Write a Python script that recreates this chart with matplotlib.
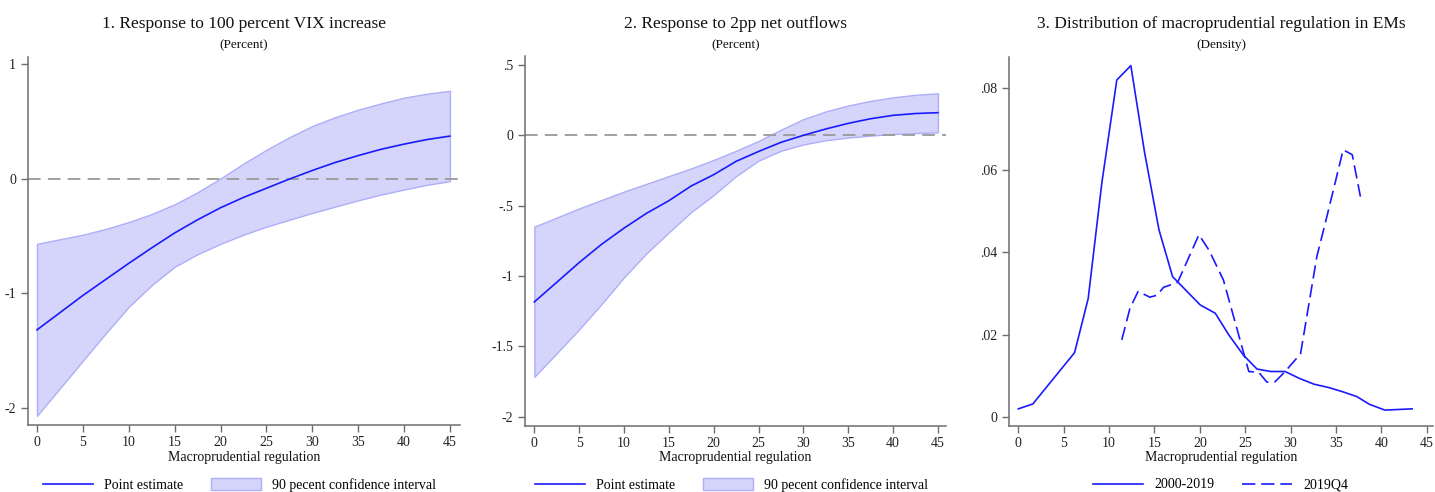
import matplotlib
matplotlib.use("Agg")
import matplotlib.pyplot as plt
import matplotlib.transforms as mtransforms
from matplotlib.patches import Patch
from matplotlib.lines import Line2D

plt.rcParams['font.family'] = ['Liberation Serif', 'DejaVu Serif']

# ---- data ----
x_reg = [0, 2.5, 5, 7.5, 10, 12.5, 15, 17.5, 20, 22.5, 25, 27.5, 30, 32.5, 35, 37.5, 40, 42.5, 45]

vix_est = [-1.32, -1.17, -1.02, -0.88, -0.74, -0.605, -0.475, -0.36, -0.255, -0.165, -0.085,
           -0.005, 0.07, 0.14, 0.20, 0.255, 0.30, 0.34, 0.37]
vix_hi = [-0.57, -0.53, -0.49, -0.44, -0.38, -0.31, -0.225, -0.12, 0.0, 0.13, 0.25,
          0.36, 0.458, 0.535, 0.60, 0.655, 0.705, 0.74, 0.765]
vix_lo = [-2.07, -1.83, -1.59, -1.35, -1.12, -0.93, -0.77, -0.66, -0.57, -0.49, -0.42,
          -0.36, -0.30, -0.245, -0.19, -0.14, -0.096, -0.055, -0.023]

flow_est = [-1.185, -1.045, -0.905, -0.775, -0.66, -0.555, -0.465, -0.36, -0.28, -0.185, -0.115,
            -0.05, 0.0, 0.045, 0.085, 0.118, 0.142, 0.155, 0.161]
flow_hi = [-0.65, -0.585, -0.52, -0.46, -0.40, -0.345, -0.29, -0.235, -0.175, -0.11, -0.04,
           0.04, 0.115, 0.17, 0.212, 0.245, 0.27, 0.288, 0.299]
flow_lo = [-1.717, -1.55, -1.38, -1.2, -1.01, -0.84, -0.69, -0.545, -0.425, -0.29, -0.18,
           -0.11, -0.065, -0.035, -0.016, -0.002, 0.009, 0.016, 0.021]

dens_x_all = [0.0, 1.6, 6.2, 7.7, 9.2, 10.85, 12.4, 13.9, 15.5, 17.0, 20.05, 21.7, 23.2, 24.8,
              26.3, 27.8, 29.4, 31.0, 32.6, 34.2, 35.7, 37.3, 38.7, 40.4, 43.4]
dens_y_all = [0.0019, 0.0031, 0.0156, 0.0288, 0.0569, 0.082, 0.0855, 0.0645, 0.0455, 0.0341,
              0.0272, 0.0252, 0.0199, 0.0150, 0.0116, 0.0110, 0.0110, 0.0093, 0.0079, 0.0071,
              0.0061, 0.0049, 0.0030, 0.0016, 0.0019]
dens_x_q4 = [11.4, 12.3, 13.2, 14.5, 15.3, 16.0, 17.55, 18.0, 19.9, 21.0, 22.6, 25.4, 26.5,
             27.4, 28.3, 29.4, 31.1, 32.9, 34.0, 35.8, 36.8, 37.7]
dens_y_q4 = [0.0187, 0.0264, 0.0305, 0.0291, 0.0296, 0.0315, 0.0327, 0.0349, 0.0443, 0.0406,
             0.0333, 0.011, 0.0108, 0.0084, 0.0085, 0.011, 0.0153, 0.039, 0.0487, 0.065,
             0.0638, 0.0536]

x_ticks = [0, 5, 10, 15, 20, 25, 30, 35, 40, 45]
vix_yticks = [1, 0, -1, -2]
vix_ylabels = ['1', '0', '-1', '-2']
flow_yticks = [0.5, 0, -0.5, -1, -1.5, -2]
flow_ylabels = ['.5', '0', '-.5', '-1', '-1.5', '-2']
dens_yticks = [0, 0.02, 0.04, 0.06, 0.08]
dens_ylabels = ['0', '.02', '.04', '.06', '.08']

titles = ['1. Response to 100 percent VIX increase',
          '2. Response to 2pp net outflows',
          '3. Distribution of macroprudential regulation in EMs']
subtitles = ['(Percent)', '(Percent)', '(Density)']

# ---- style ----
W, H = 1435, 492
blue = '#1a1aff'
band = '#d5d5fb'
band_edge = '#aeaef8'
spine_c = '#6e6e6e'

fig = plt.figure(figsize=(W / 100, H / 100), dpi=100)

def add_ax(l, r, t, b):
    return fig.add_axes([l / W, 1 - b / H, (r - l) / W, (b - t) / H])

ax1 = add_ax(28, 460, 57, 425)
ax2 = add_ax(525, 946, 56, 425.7)
ax3 = add_ax(1009, 1433, 57, 425.7)

# panel 1
ax1.fill_between(x_reg, vix_lo, vix_hi, facecolor=band, edgecolor=band_edge, lw=1)
ax1.axhline(0, color='#9a9a9a', lw=1.3, dashes=(7, 4))
ax1.plot(x_reg, vix_est, color=blue, lw=1.2)
ax1.set_xlim(-0.98, 46.1)
ax1.set_ylim(-2.15, 1.06)
ax1.set_yticks(vix_yticks)
ax1.set_yticklabels(vix_ylabels)

# panel 2
ax2.fill_between(x_reg, flow_lo, flow_hi, facecolor=band, edgecolor=band_edge, lw=1)
ax2.axhline(0, color='#9a9a9a', lw=1.3, dashes=(7, 4))
ax2.plot(x_reg, flow_est, color=blue, lw=1.2)
ax2.set_xlim(-1.04, 45.9)
ax2.set_ylim(-2.065, 0.564)
ax2.set_yticks(flow_yticks)
ax2.set_yticklabels(flow_ylabels)

# panel 3
ax3.plot(dens_x_all, dens_y_all, color=blue, lw=1.2)
ax3.plot(dens_x_q4, dens_y_q4, color=blue, lw=1.2, dashes=(8, 3.5))
ax3.set_xlim(-1.03, 45.7)
ax3.set_ylim(-0.0022, 0.0876)
ax3.set_yticks(dens_yticks)
ax3.set_yticklabels(dens_ylabels)

for ax, title, sub in zip([ax1, ax2, ax3], titles, subtitles):
    ax.set_xticks(x_ticks)
    for s in ['top', 'right']:
        ax.spines[s].set_visible(False)
    for s in ['left', 'bottom']:
        ax.spines[s].set_color(spine_c)
        ax.spines[s].set_linewidth(1.1)
    ax.tick_params(colors=spine_c, labelcolor='#222222', labelsize=10, length=5, width=1)
    ax.tick_params(axis='x', pad=3)
    tr = mtransforms.blended_transform_factory(ax.transAxes, fig.transFigure)
    ax.text(0.5, 1 - 24 / H, title, transform=tr, ha='center', va='center',
            fontsize=12.5, color='#111111')
    ax.text(0.5, 1 - 45 / H, sub, transform=tr, ha='center', va='center',
            fontsize=9.5, color='#111111')
    ax.text(0.5, 1 - 457 / H, 'Macroprudential regulation', transform=tr,
            ha='center', va='center', fontsize=10, color='#111111')

# legends
for ax in [ax1, ax2]:
    h = [Line2D([], [], color=blue, lw=1.2),
         Patch(facecolor=band, edgecolor=band_edge, lw=1)]
    ax.legend(h, ['Point estimate', '90 pecent confidence interval'], ncol=2,
              loc='center', bbox_to_anchor=(0.49, 1 - 485 / H),
              bbox_transform=mtransforms.blended_transform_factory(ax.transAxes, fig.transFigure),
              frameon=False, fontsize=10, handlelength=3.6, handleheight=0.9,
              handletextpad=0.8, columnspacing=2.0)

h3 = [Line2D([], [], color=blue, lw=1.2),
      Line2D([], [], color=blue, lw=1.2, dashes=(8, 3.5))]
ax3.legend(h3, ['2000-2019', '2019Q4'], ncol=2, loc='center',
           bbox_to_anchor=(0.5, 1 - 485 / H),
           bbox_transform=mtransforms.blended_transform_factory(ax3.transAxes, fig.transFigure),
           frameon=False, fontsize=10, handlelength=3.6, handletextpad=0.8, columnspacing=2.0)

fig.savefig('out.png', dpi=100)
